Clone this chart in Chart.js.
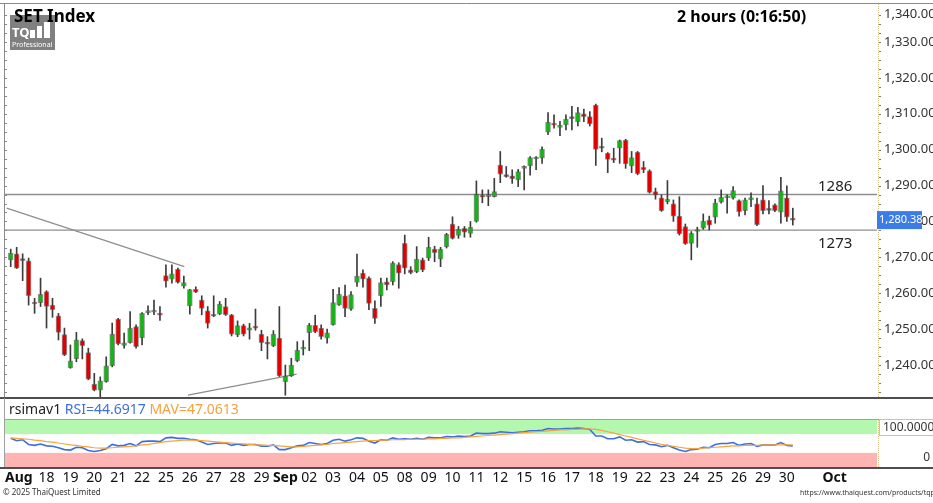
<!DOCTYPE html>
<html>
<head>
<meta charset="utf-8">
<script src="https://cdn.jsdelivr.net/npm/chart.js@4.4.1/dist/chart.umd.min.js"></script>
<style>
html, body { margin: 0; padding: 0; background: #fff; }
#wrap { position: relative; width: 933px; height: 503px; overflow: hidden; background: #fff; }
#main { position: absolute; left: 0; top: 0; }
#rsi { position: absolute; left: 0; top: 398px; }
</style>
</head>
<body>
<div id="wrap">
  <canvas id="main" width="933" height="400"></canvas>
  <canvas id="rsi" width="933" height="105"></canvas>
</div>
<script>
// 2-hour candles, SET Index, 15 Aug - 30 Sep (4 bars per trading day)
var opens = [1269.3,1271.0,1269.5,1269.0,1257.4,1257.4,1260.5,1256.7,1253.7,1248.5,1239.3,1241.7,1246.8,1243.5,1234.7,1233.0,1235.4,1239.8,1252.8,1245.5,1246.2,1250.7,1247.6,1254.6,1254.7,1254.2,
  1264.9,1263.9,1266.7,1262.0,1256.5,1261.1,1258.1,1255.1,1253.8,1254.2,1256.3,1254.0,1248.4,1251.0,1249.7,1250.5,1248.6,1246.4,1245.4,1247.5,1235.4,1237.0,1241.2,1244.4,
  1249.0,1251.1,1250.3,1247.5,1251.2,1256.7,1259.3,1255.6,1263.0,1265.6,1264.2,1255.8,1259.3,1263.2,1263.2,1268.0,1273.9,1266.5,1266.0,1269.3,1269.8,1272.3,1269.5,1273.0,1279.3,
  1276.1,1278.1,1276.7,1280.0,1287.1,1286.9,1286.9,1295.7,1292.8,1292.7,1291.6,1294.8,1295.5,1297.4,1297.6,1304.9,1307.3,1306.2,1306.9,1309.2,1307.8,1310.0,1309.2,1312.4,1300.7,
  1299.0,1297.3,1300.4,1302.7,1295.5,1299.3,1295.1,1294.1,1288.3,1286.6,1285.5,1284.9,1281.5,1278.6,1273.9,1277.2,1278.1,1280.4,1281.2,1285.4,1286.6,1286.5,1285.8,1283.0,1286.1,
  1284.9,1286.0,1283.4,1284.6,1282.6,1286.6,1280.7];
var highs = [1272.3,1272.8,1271.0,1269.8,1258.6,1264.2,1260.7,1258.6,1254.4,1250.3,1245.6,1249.1,1247.3,1244.7,1237.7,1236.7,1242.3,1251.7,1253.0,1248.9,1254.9,1251.2,1254.6,1256.5,1258.1,1256.3,
  1267.9,1267.9,1267.0,1264.8,1261.1,1261.8,1259.3,1256.3,1259.3,1257.7,1258.6,1254.1,1252.3,1251.4,1251.6,1255.6,1249.7,1247.9,1249.6,1256.3,1240.0,1241.9,1246.5,1246.8,
  1251.6,1253.9,1251.2,1250.0,1261.1,1261.6,1262.3,1260.5,1270.9,1266.5,1264.6,1257.9,1264.2,1264.2,1268.8,1268.5,1276.2,1267.4,1273.0,1269.8,1275.6,1273.1,1272.8,1276.7,1281.3,
  1278.6,1278.6,1280.0,1291.3,1288.8,1288.8,1292.0,1299.5,1295.3,1294.4,1294.5,1295.5,1298.1,1298.1,1300.8,1310.3,1309.7,1307.9,1309.7,1312.1,1311.8,1311.3,1310.6,1312.7,1303.2,
  1299.2,1300.4,1302.7,1302.9,1299.5,1299.5,1296.7,1294.4,1289.3,1287.4,1291.4,1286.0,1286.9,1279.3,1277.2,1278.4,1282.1,1281.5,1286.2,1288.8,1287.4,1289.7,1286.0,1286.5,1288.0,
  1286.5,1290.0,1285.8,1284.9,1292.3,1289.9,1283.7];
var lows = [1267.4,1266.9,1263.5,1256.7,1254.4,1256.3,1250.3,1253.3,1247.0,1242.6,1239.1,1240.9,1241.7,1235.9,1232.8,1230.8,1235.2,1239.5,1245.6,1244.7,1246.1,1244.7,1245.6,1254.0,1254.0,1252.4,
  1261.7,1262.8,1262.8,1261.4,1254.2,1260.2,1254.0,1250.3,1253.5,1254.0,1253.8,1248.1,1247.9,1248.1,1247.2,1249.7,1244.0,1241.7,1245.1,1236.8,1231.6,1236.8,1240.9,1242.8,
  1244.0,1249.0,1247.2,1246.1,1251.1,1256.6,1253.5,1255.2,1261.9,1261.7,1255.4,1251.6,1256.3,1260.9,1262.3,1261.4,1265.4,1265.4,1265.7,1266.0,1269.1,1268.8,1267.4,1272.6,1275.1,
  1275.3,1275.6,1275.6,1279.8,1285.2,1284.4,1286.8,1290.8,1292.3,1290.6,1289.7,1288.8,1292.9,1294.4,1296.2,1304.2,1306.0,1303.9,1305.5,1305.5,1306.6,1307.8,1306.6,1295.6,1299.4,
  1293.6,1296.4,1296.2,1294.8,1293.6,1293.0,1293.6,1287.9,1286.2,1282.8,1284.9,1280.0,1276.2,1273.6,1269.3,1272.8,1277.8,1277.6,1279.5,1285.1,1282.3,1286.2,1281.5,1281.8,1284.1,
  1278.8,1282.1,1282.1,1282.7,1279.5,1280.0,1279.0];
var closes = [1271.2,1267.0,1269.1,1259.3,1257.0,1259.7,1256.3,1255.4,1249.1,1242.8,1241.2,1247.0,1245.4,1236.1,1233.0,1235.6,1239.8,1248.6,1245.9,1246.2,1250.3,1245.1,1254.4,1255.1,1254.9,1253.9,
  1263.4,1265.4,1263.0,1263.0,1261.0,1260.3,1255.8,1251.6,1253.6,1257.0,1254.0,1248.6,1251.0,1248.6,1250.4,1250.3,1246.2,1245.8,1248.6,1237.0,1237.0,1240.0,1244.2,1244.8,
  1251.1,1249.3,1247.9,1249.0,1257.4,1259.7,1255.8,1259.6,1264.8,1263.9,1257.2,1253.0,1263.0,1262.3,1268.5,1265.6,1267.0,1265.7,1269.5,1266.5,1272.8,1271.3,1272.3,1276.4,1275.3,
  1277.8,1277.0,1278.4,1287.6,1286.8,1287.3,1288.3,1293.2,1292.5,1291.9,1293.9,1295.1,1297.8,1297.7,1300.1,1307.7,1306.8,1306.7,1308.5,1308.6,1310.3,1309.2,1307.2,1300.1,1300.4,
  1297.3,1297.1,1302.5,1296.0,1297.8,1293.3,1294.4,1288.1,1287.4,1283.0,1286.2,1281.5,1276.5,1273.8,1276.7,1277.6,1280.1,1279.0,1285.2,1286.8,1286.9,1288.6,1282.7,1286.0,1286.4,
  1279.1,1283.0,1283.1,1283.0,1288.5,1281.2,1280.38];

var rsiValues = [61,56,58,48,46,49,45,44,41,37,36,42,41,35,33,35,39,48,45,46,50,45,54,55,55,54,
  62,63,61,61,59,58,53,48,50,51,51,46,49,46,48,48,44,44,47,37,37,41,45,46,52,
  50,48,50,57,59,55,58,62,61,55,51,58,57,62,59,60,59,61,59,63,62,62,65,64,66,
  65,66,72,71,71,72,75,74,73,74,75,77,77,78,82,81,81,82,82,83,82,80,66,66,
  60,60,64,57,58,53,54,48,47,43,46,41,36,33,37,38,42,41,48,50,50,52,46,49,50,44,47,47,47,52,46,44.6917];
var mavValues = [62,61,60,59,57,56,54,53,51,49,47,46,44,43,41,40,40,41,42,43,44,45,47,48,50,52,
  54,55,56,57,57,57,56,55,54,53,52,51,50,49,48,47,47,46,46,45,44,43,43,44,45,
  46,47,48,50,51,52,53,54,55,56,56,57,57,58,58,58,59,59,59,60,60,61,61,62,62,
  63,64,65,66,67,68,69,70,71,72,73,74,75,76,77,78,79,79,80,80,81,81,80,78,
  75,72,69,66,63,60,57,54,51,48,46,44,42,40,39,39,40,41,42,43,44,45,45,46,46,46,47,47,47,47,47,47.0613];

var dayLabels = ['Aug','18','19','20','21','22','25','26','27','28','29','Sep','02','03','04','05','08','09','10','11','12',
  '15','16','17','18','19','22','23','24','25','26','29','30','','Oct'];
var priceTicks = [1240, 1250, 1260, 1270, 1280, 1290, 1300, 1310, 1320, 1330, 1340];
var levelValues = [1287.5, 1277.6];
var levelLabels = ['1286', '1273'];
// trend lines: [x1, price1, x2, price2] in candle index units
var trendLines = [[-0.67, 1283.7, 29.08, 1267.4], [29.7, 1231.6, 47.9, 1237.5]];

var barsPerDay = 4;
var xMin = -0.955, xMax = 145.1;

Chart.defaults.font.family = '"Noto Sans", sans-serif';

function fmtPrice(v) {
  return v.toLocaleString('en-US', { minimumFractionDigits: 2, maximumFractionDigits: 2 });
}

var idx = closes.map(function (c, i) { return i; });
var wickData = idx.map(function (i) { return { x: i, y: [lows[i], highs[i]] }; });
var bodyData = idx.map(function (i) { return { x: i, y: [opens[i], closes[i]] }; });
var bodyColors = idx.map(function (i) { return closes[i] >= opens[i] ? '#14b414' : '#e00000'; });

var datasets = [];
levelValues.forEach(function (v) {
  datasets.push({ type: 'line', data: [{ x: xMin, y: v }, { x: xMax, y: v }], borderColor: '#8e8e8e', borderWidth: 1.4, pointRadius: 0, order: 5 });
});
trendLines.forEach(function (t) {
  datasets.push({ type: 'line', data: [{ x: t[0], y: t[1] }, { x: t[2], y: t[3] }], borderColor: '#8e8e8e', borderWidth: 1.3, pointRadius: 0, order: 5 });
});
datasets.push({ type: 'bar', data: wickData, backgroundColor: '#3c3c3c', barThickness: 1, grouped: false, order: 3 });
datasets.push({ type: 'bar', data: bodyData, backgroundColor: bodyColors, borderColor: 'rgba(70,70,70,0.55)', borderWidth: 1,
  borderSkipped: false, barThickness: 5, minBarLength: 2, grouped: false, order: 1 });

var mainDecor = {
  id: 'mainDecor',
  afterDraw: function (chart) {
    var ctx = chart.ctx, a = chart.chartArea, y = chart.scales.y, W = chart.width;
    ctx.save();
    // frame
    ctx.strokeStyle = '#8a8a8a'; ctx.lineWidth = 1;
    ctx.beginPath(); ctx.moveTo(0, 3.5); ctx.lineTo(W, 3.5); ctx.stroke();
    ctx.beginPath(); ctx.moveTo(4.5, 3); ctx.lineTo(4.5, a.bottom); ctx.stroke();
    var v, py;
    for (v = 1232.5; v < 1340; v += 2.5) {
      py = Math.round(y.getPixelForValue(v)) + 0.5;
      ctx.beginPath(); ctx.moveTo(4, py); ctx.lineTo(7, py); ctx.stroke();
    }
    ctx.strokeStyle = '#4e4e4e'; ctx.lineWidth = 2;
    ctx.beginPath(); ctx.moveTo(0, a.bottom + 1); ctx.lineTo(W, a.bottom + 1); ctx.stroke();
    // right axis
    ctx.strokeStyle = '#d6c28c'; ctx.lineWidth = 1; ctx.setLineDash([1, 1]);
    ctx.beginPath(); ctx.moveTo(a.right + 1.5, 4); ctx.lineTo(a.right + 1.5, a.bottom); ctx.stroke();
    ctx.setLineDash([]);
    ctx.strokeStyle = '#777';
    for (v = 1232.5; v < 1340; v += 2.5) {
      py = Math.round(y.getPixelForValue(v)) + 0.5;
      ctx.beginPath(); ctx.moveTo(a.right + 2, py); ctx.lineTo(a.right + 4, py); ctx.stroke();
    }
    ctx.font = '13px "Noto Sans"'; ctx.fillStyle = '#333'; ctx.textBaseline = 'middle'; ctx.textAlign = 'left';
    priceTicks.forEach(function (t) {
      ctx.fillText(fmtPrice(t), a.right + 7, Math.max(y.getPixelForValue(t), 14));
    });
    // last price
    var last = closes[closes.length - 1], ly = y.getPixelForValue(last);
    ctx.fillStyle = '#3c7ce6'; ctx.fillRect(a.right, ly - 9, 45, 18);
    ctx.fillStyle = '#fff'; ctx.font = '11px "Noto Sans"';
    ctx.fillText(fmtPrice(last), a.right + 2, ly);
    // level labels
    ctx.font = '15px "Noto Sans"'; ctx.fillStyle = '#222';
    ctx.fillText(levelLabels[0], 818, y.getPixelForValue(levelValues[0]) - 8);
    ctx.fillText(levelLabels[1], 818, y.getPixelForValue(levelValues[1]) + 14);
    // logo
    ctx.fillStyle = '#808080'; ctx.fillRect(10, 15, 45, 35);
    ctx.fillStyle = '#fff'; ctx.font = 'bold 13px "Noto Sans"'; ctx.fillText('TQ', 12, 33);
    ctx.fillRect(30, 30, 5, 8); ctx.fillRect(37, 26, 5, 12); ctx.fillRect(44, 22, 6, 16);
    ctx.font = '7px "Noto Sans"'; ctx.fillText('Professional', 12, 45);
    // titles
    ctx.fillStyle = '#000'; ctx.font = 'bold 17px "Noto Sans"';
    ctx.fillText('SET Index', 14, 17);
    ctx.font = 'bold 16px "Noto Sans"';
    ctx.fillText('2 hours (0:16:50)', 677, 17);
    ctx.restore();
  }
};

new Chart(document.getElementById('main').getContext('2d'), {
  type: 'bar',
  data: { datasets: datasets },
  options: {
    responsive: false, animation: false, devicePixelRatio: 1,
    layout: { padding: { left: 5, right: 56, top: 5, bottom: 3 } },
    plugins: { legend: { display: false }, tooltip: { enabled: false } },
    scales: {
      x: { type: 'linear', min: xMin, max: xMax, offset: false, display: false },
      y: { type: 'linear', min: 1231.1, max: 1340.3, display: false }
    }
  },
  plugins: [mainDecor]
});

var rsiDecor = {
  id: 'rsiDecor',
  beforeDatasetsDraw: function (chart) {
    var ctx = chart.ctx, a = chart.chartArea, y = chart.scales.y, t, b;
    ctx.save();
    t = y.getPixelForValue(100); b = y.getPixelForValue(70);
    ctx.fillStyle = '#b4f7ae'; ctx.fillRect(a.left, t, a.right - a.left, b - t);
    t = y.getPixelForValue(30); b = y.getPixelForValue(0);
    ctx.fillStyle = '#ffb4b4'; ctx.fillRect(a.left, t, a.right - a.left, b - t);
    ctx.restore();
  },
  afterDraw: function (chart) {
    var ctx = chart.ctx, a = chart.chartArea, x = chart.scales.x, W = chart.width;
    ctx.save();
    ctx.strokeStyle = '#a0a0a0'; ctx.lineWidth = 1;
    ctx.beginPath(); ctx.moveTo(4, a.top - 0.5); ctx.lineTo(W, a.top - 0.5); ctx.stroke();
    ctx.beginPath(); ctx.moveTo(4.5, 0); ctx.lineTo(4.5, a.bottom); ctx.stroke();
    ctx.strokeStyle = '#4e4e4e'; ctx.lineWidth = 2;
    ctx.beginPath(); ctx.moveTo(0, a.bottom + 1); ctx.lineTo(W, a.bottom + 1); ctx.stroke();
    ctx.strokeStyle = '#d6c28c'; ctx.lineWidth = 1; ctx.setLineDash([1, 1]);
    ctx.beginPath(); ctx.moveTo(a.right + 1.5, a.top); ctx.lineTo(a.right + 1.5, a.bottom); ctx.stroke();
    ctx.setLineDash([]);
    // title
    var parts = [['rsimav1 ', '#222'], ['RSI=' + rsiValues[rsiValues.length - 1].toFixed(4) + ' ', '#3d6fe0'],
      ['MAV=' + mavValues[mavValues.length - 1].toFixed(4), '#f5a23a']];
    ctx.font = '14px "Noto Sans"'; ctx.textBaseline = 'middle'; ctx.textAlign = 'left';
    var px = 9;
    parts.forEach(function (p) { ctx.fillStyle = p[1]; ctx.fillText(p[0], px, 12); px += ctx.measureText(p[0]).width; });
    // right labels
    ctx.strokeStyle = '#e0c27a'; ctx.strokeRect(a.right + 2.5, a.top - 0.5, 60, 16);
    ctx.font = '12px "Noto Sans"'; ctx.fillStyle = '#333';
    ctx.fillText('100.0000', a.right + 6, a.top + 8);
    ctx.textAlign = 'right'; ctx.fillText('0', W - 3, a.top + 38);
    // day labels
    ctx.fillStyle = '#111';
    dayLabels.forEach(function (lbl, d) {
      if (!lbl) return;
      var month = isNaN(Number(lbl));
      ctx.font = (month ? 'bold ' : '') + '14px "Noto Sans"';
      if (d === 0) { ctx.textAlign = 'left'; ctx.fillText(lbl, a.left, 80); }
      else { ctx.textAlign = 'center'; ctx.fillText(lbl, x.getPixelForValue(d * barsPerDay + 2), 80); }
    });
    // footer
    ctx.textAlign = 'left'; ctx.font = '8px "Noto Sans"'; ctx.fillStyle = '#333';
    ctx.fillText('\u00a9 2025 ThaiQuest Limited', 3, 95);
    ctx.font = '7px "Noto Sans"';
    ctx.fillText('https://www.thaiquest.com/products/tqprofessional', 800, 95);
    ctx.restore();
  }
};

new Chart(document.getElementById('rsi').getContext('2d'), {
  type: 'line',
  data: {
    datasets: [
      { data: idx.map(function (i) { return { x: i, y: mavValues[i] }; }), borderColor: '#f7a43c', borderWidth: 1.2, pointRadius: 0, tension: 0 },
      { data: idx.map(function (i) { return { x: i, y: rsiValues[i] }; }), borderColor: '#3d6fe0', borderWidth: 1.6, pointRadius: 0, tension: 0 }
    ]
  },
  options: {
    responsive: false, animation: false, devicePixelRatio: 1,
    layout: { padding: { left: 5, right: 56, top: 22, bottom: 36 } },
    plugins: { legend: { display: false }, tooltip: { enabled: false } },
    scales: {
      x: { type: 'linear', min: xMin, max: xMax, display: false },
      y: { min: 0, max: 100, display: false }
    }
  },
  plugins: [rsiDecor]
});
</script>
</body>
</html>
